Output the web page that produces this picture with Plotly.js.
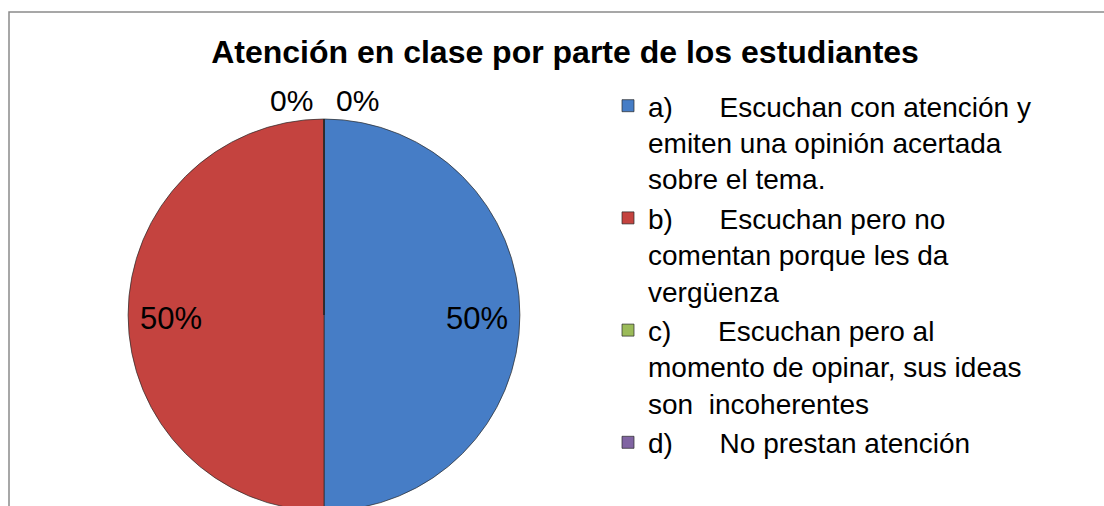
<!DOCTYPE html>
<html>
<head>
<meta charset="utf-8">
<script src="https://cdn.plot.ly/plotly-3.0.1.min.js"></script>
<style>
html, body { margin: 0; padding: 0; overflow: hidden; background: #fff; }
#chart { width: 1104px; height: 530px; }
</style>
</head>
<body>
<div id="chart"></div>
<script>
// Data
const chartTitle = "Atención en clase por parte de los estudiantes";
const categories = [
  "a)\u00a0\u00a0\u00a0\u00a0\u00a0\u00a0Escuchan con atención y<br>emiten una opinión acertada<br>sobre el tema.",
  "b)\u00a0\u00a0\u00a0\u00a0\u00a0\u00a0Escuchan pero no<br>comentan porque les da<br>vergüenza",
  "c)\u00a0\u00a0\u00a0\u00a0\u00a0\u00a0Escuchan pero al<br>momento de opinar, sus ideas<br>son  incoherentes",
  "d)\u00a0\u00a0\u00a0\u00a0\u00a0\u00a0No prestan atención"
];
const values = [50, 50, 0, 0];

// Styles / geometry
const sliceColors = ["#467DC6", "#C4433F", "#9BBB59", "#8064A2"];
const W = 1104, H = 530;
const font = "Liberation Sans, Arial, sans-serif";
const pieLeft = 128, pieRight = 520, pieTop = 119, pieBottom = 511;
const cx = (pieLeft + pieRight) / 2, cy = (pieTop + pieBottom) / 2, r = (pieRight - pieLeft) / 2;

const trace = {
  type: "pie",
  labels: categories,
  values: values,
  sort: false,
  direction: "clockwise",
  rotation: 0,
  marker: { colors: sliceColors, line: { color: "rgba(40,40,40,0.7)", width: 1 } },
  textinfo: "none",
  hoverinfo: "label+percent",
  domain: { x: [pieLeft / W, pieRight / W], y: [1 - pieBottom / H, 1 - pieTop / H] },
  showlegend: true
};

// Data labels placed like the original (best fit), derived from the values
const total = values.reduce((s, v) => s + v, 0);
const annotations = [];
let cum = 0;
const zeroIdx = values.map((v, i) => v === 0 ? i : -1).filter(i => i >= 0);
values.forEach((v, i) => {
  const frac = v / total;
  const mid = 2 * Math.PI * (cum + frac / 2);
  cum += frac;
  const txt = Math.round(frac * 100) + "%";
  let px, py, size;
  if (v > 0) {
    px = cx + 0.78 * r * Math.sin(mid);
    py = cy - 0.78 * r * Math.cos(mid) + 3;
    size = 31;
  } else {
    const k = zeroIdx.indexOf(i);
    px = cx + 1.0 * r * Math.sin(mid) * 0 + (k - (zeroIdx.length - 1) / 2) * 66;
    py = cy - 1.093 * r * Math.cos(mid);
    size = 30;
  }
  annotations.push({
    xref: "paper", yref: "paper",
    x: px / W, y: 1 - py / H,
    xanchor: "center", yanchor: "middle",
    text: txt, showarrow: false,
    font: { family: font, size: size, color: "#000" }
  });
});

const layout = {
  width: W,
  height: H,
  margin: { l: 0, r: 0, t: 0, b: 0 },
  paper_bgcolor: "#fff",
  title: {
    text: "<b>" + chartTitle + "</b>",
    font: { family: font, size: 32, color: "#000" },
    x: 565 / W, xanchor: "center",
    y: 1 - 52 / H, yanchor: "middle",
    xref: "paper", yref: "paper"
  },
  legend: {
    x: 608 / W, xanchor: "left",
    y: 1 - 81 / H, yanchor: "top",
    font: { family: font, size: 28, color: "#000" },
    valign: "top",
    bgcolor: "rgba(0,0,0,0)",
    tracegroupgap: 0
  },
  annotations: annotations,
  shapes: [{
    type: "rect", xref: "paper", yref: "paper",
    x0: 9 / W, x1: 1.05, y0: -0.05, y1: 1 - 12 / H,
    line: { color: "#8a8a8a", width: 1.5 }
  }]
};

Plotly.newPlot("chart", [trace], layout, { displayModeBar: false, staticPlot: true });
</script>
</body>
</html>
